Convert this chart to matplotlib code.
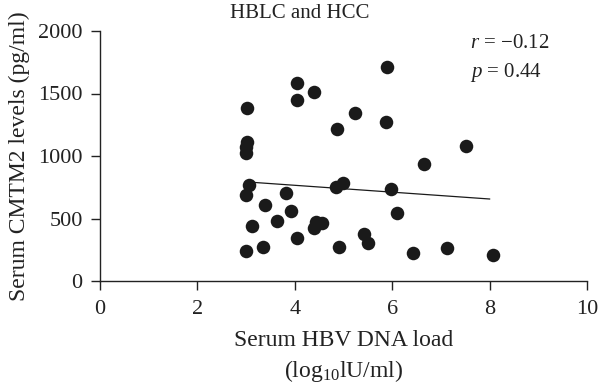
import numpy as np
import matplotlib
matplotlib.use("Agg")
import matplotlib.pyplot as plt

plt.rcParams['font.family'] = ['Liberation Serif', 'DejaVu Serif']
plt.rcParams['mathtext.fontset'] = 'custom'
plt.rcParams['mathtext.rm'] = 'Liberation Serif'
plt.rcParams['mathtext.it'] = 'Liberation Serif:italic'

hbv_load = [3.01, 4.05, 4.39, 4.05, 4.87, 3.02, 2.99, 2.99, 3.05, 2.99,
            3.81, 3.39, 3.93, 3.13, 3.63, 4.43, 4.55, 4.39, 4.05, 3.35,
            3.00, 4.84, 4.98, 4.91, 5.89, 5.24, 5.87, 7.51, 6.65, 5.97,
            6.10, 5.42, 5.51, 6.43, 7.13, 8.08]
cmtm2 = [1382, 1581, 1515, 1448, 1216, 1115, 1069, 1021, 768, 688,
         701, 608, 562, 443, 480, 475, 461, 421, 347, 275,
         240, 755, 787, 270, 1715, 1341, 1275, 1080, 936, 736,
         541, 376, 301, 226, 267, 208]

# regression line as shown in the figure
fit_x = [3.0, 8.0]
fit_y = [793, 656]

x_ticks = [0, 2, 4, 6, 8, 10]
y_ticks = [0, 500, 1000, 1500, 2000]
title = "HBLC and HCC"

fig = plt.figure(figsize=(6, 3.92), dpi=100)
ax = fig.add_axes([100/600, 1-281/392, 487/600, 250/392])

ax.scatter(hbv_load, cmtm2, s=95, color='#1a1a1a', zorder=3, linewidths=0)
ax.plot(fit_x, fit_y, color='#1a1a1a', lw=0.9, zorder=2)

ax.set_xlim(0, 10)
ax.set_ylim(0, 2000)
ax.set_xticks(x_ticks)
ax.set_yticks(y_ticks)
for s in ['top', 'right']:
    ax.spines[s].set_visible(False)
for s in ['left', 'bottom']:
    ax.spines[s].set_linewidth(1.0)
    ax.spines[s].set_color('#222222')
ax.tick_params(direction='out', length=6.5, width=1.0, color='#222222',
               labelsize=16, labelcolor='#222222')
ax.tick_params(axis='x', pad=7)
ax.tick_params(axis='y', pad=6)

ax.set_xlabel("Serum HBV DNA load\n(log$_{10}$lU/ml)", fontsize=17, color='#222222',
              labelpad=8, linespacing=1.35)
ax.set_ylabel("Serum CMTM2 levels (pg/ml)", fontsize=17, color='#222222', labelpad=6)
fig.text(0.5, 1-13/392, title, ha='center', va='center', fontsize=15, color='#222222')
fig.text(470/600, 1-44/392, "$r$ = \u22120.12", ha='left', va='center', fontsize=15, color='#222222')
fig.text(470/600, 1-73/392, "$p$ = 0.44", ha='left', va='center', fontsize=15, color='#222222')

fig.savefig("out.png", dpi=100)
